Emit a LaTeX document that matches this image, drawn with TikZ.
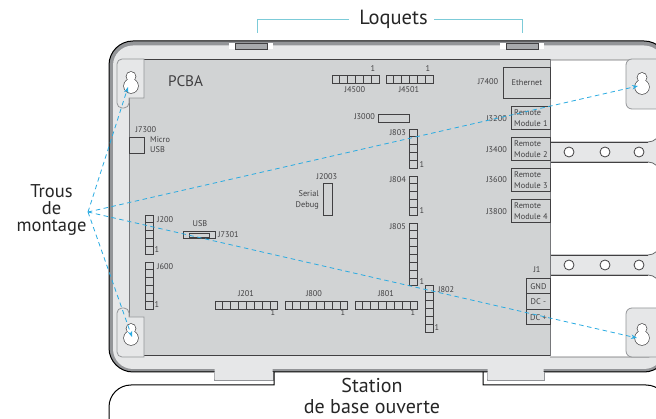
\documentclass[tikz,border=0pt]{standalone}
\usepackage{fontspec}
\setmainfont{PT Sans}
\usetikzlibrary{positioning,arrows.meta}
\definecolor{pcbgray}{HTML}{D1D3D4}
\definecolor{framegray}{HTML}{E6E7E8}
\definecolor{bandgray}{HTML}{939598}
\definecolor{inkgray}{HTML}{414042}
\definecolor{latchgray}{HTML}{A7A9AC}
\definecolor{leadteal}{HTML}{7CCBD8}
\definecolor{dashblue}{HTML}{29ABE2}
\newcommand{\keyhole}[2]{%
  \draw[line width=1.3pt, inkgray] (#1,#2) circle[radius=7pt] (#1,#2-9.5) circle[radius=4.6pt];
  \fill[white] (#1,#2) circle[radius=7pt] (#1,#2-9.5) circle[radius=4.6pt];
}
\begin{document}
\begin{tikzpicture}[x=1pt, y=-1pt, >={Stealth[length=6pt,width=4.5pt]},
  small/.style={font=\fontsize{8.3}{10}\selectfont, text=inkgray, inner sep=0pt},
  big/.style={font=\fontsize{20.5}{21}\selectfont, text=black!85, inner sep=0pt},
  cellbox/.style={draw=inkgray, line width=0.8pt},
  boxnode/.style={cellbox, small, align=left, anchor=north west},
  opening/.style={draw=bandgray!70!black, fill=white, line width=0.8pt},
  lead/.style={leadteal, line width=0.9pt},
  guide/.style={->, dashblue, line width=0.8pt, dash pattern=on 4.5pt off 3.5pt},
  tabline/.style={draw=bandgray, fill=framegray, line width=0.8pt}]
\useasboundingbox (0,0) rectangle (656,419);
\clip (0,0) rectangle (656,419);
\fill[white] (0,0) rectangle (656,419);

% housing
\draw[black, fill=bandgray, line width=1pt, rounded corners=24pt] (109,41) rectangle (668,372);
\fill[framegray, rounded corners=20pt] (113,45.5) rectangle (664,369);

% latches
\foreach \x in {229, 500} {
  \fill[white] (\x,43) rectangle +(44,6);
  \fill[latchgray] (\x+6,43) rectangle +(32,6);
  \draw[inkgray, line width=0.6pt] (\x+6,43) rectangle +(32,6);
}

% openings on the right
\draw[opening] (550,60) [rounded corners=12pt] -- (660,60) -- (660,142) [sharp corners] -- (550,142);
\draw[opening] (550,162) [rounded corners=12pt] -- (660,162) -- (660,255) [sharp corners] -- (550,255);
\draw[opening] (550,275) [rounded corners=12pt] -- (660,275) -- (660,357) [sharp corners] -- (550,357);
\draw[inkgray, line width=0.8pt] (550,142) -- (648,142) (550,162) -- (648,162) (550,255) -- (648,255) (550,275) -- (648,275);
\foreach \y in {152, 265}
  \foreach \x in {569, 605, 639}
    \draw[inkgray, fill=white, line width=0.8pt] (\x,\y) circle[radius=5pt];

% pcb
\fill[pcbgray] (129,59) rectangle (550,355);
\draw[inkgray, line width=0.8pt] (129,59) -- (550,59) (129,355) -- (550,355);
\draw[bandgray!80!black, line width=1pt] (129,59) -- (129,355) (550,59) -- (550,356);

% mounting tabs
\draw[tabline, rounded corners=5pt] (144,59) [sharp corners] -- (144,98) -- (129,98) [rounded corners=5pt] -- (129,108) -- (117,108) -- (117,59) [sharp corners] -- cycle;
\draw[tabline, rounded corners=5pt] (129,317) [sharp corners] -- (144,317) -- (144,357) [rounded corners=5pt] -- (117,357) -- (117,308) -- (129,308) [sharp corners] -- cycle;
\draw[tabline, rounded corners=6pt] (668,59) -- (626,59) -- (626,109) -- (668,109);
\draw[tabline, rounded corners=6pt] (668,308) -- (626,308) -- (626,357) -- (668,357);
\keyhole{131}{86}
\keyhole{642}{87}
\keyhole{131}{338}
\keyhole{642}{338}

% bottom clips and base station
\draw[tabline] (214,372) -- (214,380) -- (273,380) -- (273,372);
\draw[tabline] (487,372) -- (487,380) -- (544,380) -- (544,372);
\fill[framegray] (214.5,368) rectangle (272.5,379.5) (487.5,368) rectangle (543.5,379.5);
\draw[black, line width=1pt] (109,425) [rounded corners=22pt] -- (109,385) [sharp corners] -- (274,385) -- (274,372);
\draw[black, line width=1pt] (483,372) -- (483,385) [rounded corners=22pt] -- (668,385) [sharp corners] -- (668,425);

% pin headers along x
\foreach \x/\y/\n in {332/75/6, 386/75/6, 215/301/8, 285/301/8, 355/301/8}
  \foreach \i in {1,...,\n}
    \draw[cellbox] (\x+\i*7.85-7.85,\y) rectangle +(7.85,8);
% pin headers along y
\foreach \x/\y/\n in {409/129/5, 409/176/5, 409/223/8, 425/285/6, 145/215/5, 145/262/6}
  \foreach \i in {1,...,\n}
    \draw[cellbox] (\x,\y+\i*7.85-7.85) rectangle +(8,7.85);

% other parts
\draw[cellbox] (378,114) rectangle (409,122);
\draw[cellbox] (323,183) rectangle (332,215);
\draw[cellbox] (129,137) rectangle (144,153);
\draw[cellbox] (183,231) rectangle (215,238);
\draw[cellbox, line width=0.6pt] (189,233) rectangle (209,237);

\node[boxnode, minimum width=47pt, minimum height=31pt, align=center] (ethernet) at (503,67) {Ethernet};
\foreach \y/\n in {106/1, 137/2, 168/3, 199/4}
  \node[boxnode, minimum width=39pt, minimum height=23.5pt, inner xsep=2pt, font=\fontsize{8.3}{10.5}\selectfont] (remote\n) at (511,\y) {Remote\\Module \n};
\foreach \y/\t/\n in {278/GND/gnd, 293.5/DC -/dcm, 309/DC +/dcp}
  \node[boxnode, minimum width=24pt, minimum height=15.5pt, align=center] (\n) at (526,\y) {\t};

% labels
\node[small, anchor=west, font=\fontsize{15.3}{17}\selectfont] (pcba) at (168,81) {PCBA};
\node[small] (j4500) at (355,90) {J4500};
\node[small] (j4501) at (409,90) {J4501};
\node[small, anchor=east] (j3000) at (375,117) {J3000};
\node[small] (j7400) at (488,82) {J7400};
\node[small] (j7300) at (146,130) {J7300};
\node[small, anchor=west, align=left, font=\fontsize{8.3}{10}\selectfont] (microusb) at (150,145) {Micro\\USB};
\node[small] (j2003) at (327,177) {J2003};
\node[small, anchor=east, align=right, font=\fontsize{8.3}{11}\selectfont] (serial) at (319,199.5) {Serial\\Debug};
\node[small] (usb) at (200,224) {USB};
\node[small, anchor=west] (j7301) at (218,235) {J7301};
\node[small] (j1) at (537,270) {J1};
\node[small] (j201) at (246,294) {J201};
\node[small] (j800) at (314,294) {J800};
\node[small] (j801) at (386,294) {J801};
\foreach \y/\t in {119/J3200, 150/J3400, 180/J3600, 212/J3800}
  \node[small, anchor=east] (n\t) at (507,\y) {\t};
\foreach \y/\t in {133/J803, 180/J804, 227/J805}
  \node[small, anchor=east] (n\t) at (406,\y) {\t};
\foreach \x/\y/\t in {157/220/J200, 157/267/J600, 438/290/J802}
  \node[small, anchor=west] (n\t) at (\x,\y) {\t};
\foreach \x/\y in {373/69, 428/69, 422/165, 422/211, 422/282, 437/328, 157/250, 157/305, 273/313, 343/313, 413/313}
  \node[small] at (\x,\y) {1};

\node[big] (loquets) at (393.5,19.5) {Loquets};
\node[big, font=\fontsize{18.5}{17}\selectfont, align=center] (trous) at (51.5,210) {Trous\\de\\montage};
\node[big, align=center, font=\fontsize{20}{20.5}\selectfont] (station) at (372,396) {Station\\de base ouverte};
\coordinate (latchl) at (257,33);
\coordinate (latchr) at (522,33);
\draw[lead] (latchl) |- ([xshift=-10pt]loquets.west);
\draw[lead] (latchr) |- ([xshift=6pt]loquets.east);

% guide lines
\coordinate (origin) at (88,212);
\coordinate (holetl) at (128,87);
\coordinate (holetr) at (638,86);
\coordinate (holebr) at (637,338);
\coordinate (holebl) at (132,337);
\foreach \t in {holetl, holetr, holebr, holebl}
  \draw[guide] (origin) -- (\t);
\end{tikzpicture}
\end{document}
